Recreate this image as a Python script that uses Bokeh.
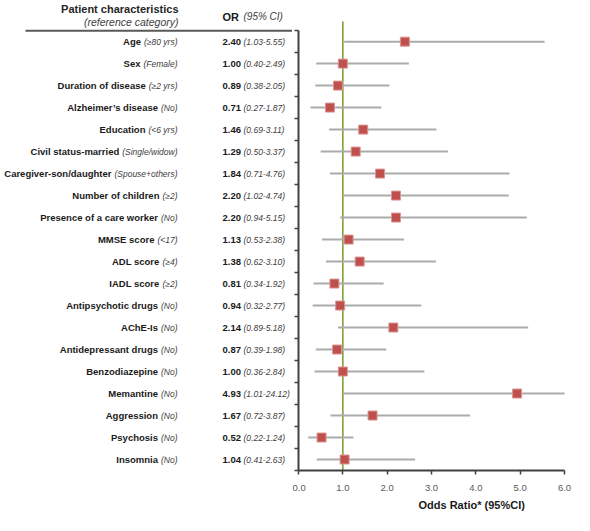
from bokeh.plotting import figure
from bokeh.models import (ColumnDataSource, Range1d, FixedTicker, NumeralTickFormatter, Title)
from bokeh.layouts import row
from bokeh.core.properties import value
from bokeh.embed import file_html
from bokeh.resources import INLINE

# ---------------- data ----------------
characteristics = ["Age", "Sex", "Duration of disease", "Alzheimer\u2019s disease", "Education",
                   "Civil status-married", "Caregiver-son/daughter", "Number of children",
                   "Presence of a care worker", "MMSE score", "ADL score", "IADL score",
                   "Antipsychotic drugs", "AChE-Is", "Antidepressant drugs", "Benzodiazepine",
                   "Memantine", "Aggression", "Psychosis", "Insomnia"]
reference = ["(\u226580 yrs)", "(Female)", "(\u22652 yrs)", "(No)", "(<6 yrs)", "(Single/widow)",
             "(Spouse+others)", "(\u22652)", "(No)", "(<17)", "(\u22654)", "(\u22652)", "(No)", "(No)",
             "(No)", "(No)", "(No)", "(No)", "(No)", "(No)"]
odds_ratio = [2.40, 1.00, 0.89, 0.71, 1.46, 1.29, 1.84, 2.20, 2.20, 1.13,
              1.38, 0.81, 0.94, 2.14, 0.87, 1.00, 4.93, 1.67, 0.52, 1.04]
ci_low = [1.03, 0.40, 0.38, 0.27, 0.69, 0.50, 0.71, 1.02, 0.94, 0.53,
          0.62, 0.34, 0.32, 0.89, 0.39, 0.36, 1.01, 0.72, 0.22, 0.41]
ci_high = [5.55, 2.49, 2.05, 1.87, 3.11, 3.37, 4.76, 4.74, 5.15, 2.38,
           3.10, 1.92, 2.77, 5.18, 1.98, 2.84, 24.12, 3.87, 1.24, 2.63]
x_ticks = [0, 1, 2, 3, 4, 5, 6]
null_value = 1.0

# ---------------- layout helpers ----------------
FONT = "Liberation Sans"
ARIAL = {'(': 333, ')': 333, '\u2265': 549, ' ': 278, 'y': 500, 'r': 333, 's': 500, 'F': 611,
         'e': 556, 'm': 833, 'a': 556, 'l': 222, 'N': 722, 'o': 556, '<': 584, 'S': 667,
         'i': 222, 'n': 556, 'g': 556, '/': 278, 'w': 722, 'd': 556, 'p': 556, 'u': 556,
         '+': 584, 't': 278, 'h': 556}


def text_width(s, size):
    return sum(ARIAL.get(c, 556) for c in s) / 1000.0 * size


n = len(characteristics)
ypos = [n - 0.5 - i for i in range(n)]
ITALIC_SIZE = 8.5
BOLD_SIZE = 9.5
REF_RIGHT = 177
OR_X = 222
CI_X = 243
name_right = [REF_RIGHT - text_width(r, ITALIC_SIZE) - 3 for r in reference]

src = ColumnDataSource(dict(
    y=ypos, name=characteristics, ref=reference,
    name_x=name_right, ref_x=[REF_RIGHT] * n,
    or_txt=["%.2f" % v for v in odds_ratio],
    ci_txt=["(%.2f-%.2f)" % (a, b) for a, b in zip(ci_low, ci_high)],
    or_x=[OR_X] * n, ci_x=[CI_X] * n,
    orv=odds_ratio, lo=ci_low, hi=ci_high,
))

H = 515
BOTTOM = 45
TOP_EXTRA = 1.37
yr = Range1d(0, n + TOP_EXTRA)

# ---------------- left table ----------------
LW = 292
t = figure(width=LW, height=H, x_range=Range1d(0, LW), y_range=yr,
           output_backend="svg", toolbar_location=None,
           x_axis_location=None, y_axis_location=None,
           min_border_left=0, min_border_right=0, min_border_top=0, min_border_bottom=BOTTOM)
t.grid.visible = False
t.outline_line_color = None

t.text(x="name_x", y="y", text="name", source=src, text_font=value(FONT),
       text_font_style="bold", text_font_size="%.1fpx" % BOLD_SIZE, text_align="right",
       text_baseline="middle", text_color="#1a1a1a")
t.text(x="ref_x", y="y", text="ref", source=src, text_font=value(FONT),
       text_font_style="italic", text_font_size="%.1fpx" % ITALIC_SIZE, text_align="right",
       text_baseline="middle", text_color="#404040")
t.text(x="or_x", y="y", text="or_txt", source=src, text_font=value(FONT),
       text_font_style="bold", text_font_size="%.1fpx" % BOLD_SIZE, text_align="left",
       text_baseline="middle", text_color="#1a1a1a")
t.text(x="ci_x", y="y", text="ci_txt", source=src, text_font=value(FONT),
       text_font_style="italic", text_font_size="%.1fpx" % ITALIC_SIZE, text_align="left",
       text_baseline="middle", text_color="#404040")

# headers
t.text(x=[178], y=[n + 0.97], text=["Patient characteristics"], text_font=value(FONT),
       text_font_style="bold", text_font_size="11px", text_align="right",
       text_baseline="middle", text_color="#262626")
t.text(x=[178], y=[n + 0.4], text=["(reference category)"], text_font=value(FONT),
       text_font_style="italic", text_font_size="10.5px", text_align="right",
       text_baseline="middle", text_color="#404040")
t.text(x=[OR_X], y=[n + 0.62], text=["OR"], text_font=value(FONT),
       text_font_style="bold", text_font_size="11px", text_align="left",
       text_baseline="middle", text_color="#1a1a1a")
t.text(x=[CI_X], y=[n + 0.62], text=["(95% CI)"], text_font=value(FONT),
       text_font_style="italic", text_font_size="10px", text_align="left",
       text_baseline="middle", text_color="#404040")
t.segment(x0=[25], x1=[LW], y0=[n], y1=[n], line_color="#595959", line_width=2)

# ---------------- right forest plot ----------------
RW = 574 - LW
p = figure(width=RW, height=H, x_range=Range1d(0, 6), y_range=yr,
           output_backend="svg", toolbar_location=None,
           min_border_left=6, min_border_right=10, min_border_top=0, min_border_bottom=BOTTOM)
p.grid.visible = False
p.outline_line_color = None

p.segment(x0=[null_value], x1=[null_value], y0=[0], y1=[n + 0.42],
          line_color="#7F9F3A", line_width=1.6)
p.segment(x0="lo", x1="hi", y0="y", y1="y", source=src, line_color="#ABABAB", line_width=2)
p.scatter(x="orv", y="y", source=src, marker="square", size=9,
          fill_color="#C0504D", line_color="#D99694", line_width=1)

p.yaxis.ticker = FixedTicker(ticks=list(range(n + 1)))
p.yaxis.bounds = (0, n)
p.yaxis.major_label_overrides = {i: "" for i in range(n + 1)}
p.yaxis.major_label_standoff = 0
p.yaxis.major_tick_out = 4
p.yaxis.major_tick_in = 0
p.yaxis.minor_tick_line_color = None
p.yaxis.axis_line_width = 2
p.yaxis.axis_line_color = "#404040"
p.yaxis.major_tick_line_color = "#404040"
p.yaxis.major_tick_line_width = 1.5

p.xaxis.ticker = FixedTicker(ticks=x_ticks)
p.xaxis.formatter = NumeralTickFormatter(format="0.0")
p.xaxis.major_label_text_font = FONT
p.xaxis.major_label_text_font_size = "9.5px"
p.xaxis.major_label_text_color = "#595959"
p.xaxis.major_label_standoff = 10
p.xaxis.major_tick_out = 4
p.xaxis.major_tick_in = 0
p.xaxis.minor_tick_line_color = None
p.xaxis.axis_line_width = 2
p.xaxis.axis_line_color = "#404040"
p.xaxis.major_tick_line_color = "#404040"
p.xaxis.major_tick_line_width = 1.5

p.add_layout(Title(text="Odds Ratio* (95%CI)", align="left", offset=120, standoff=6,
                   text_font=FONT, text_font_style="bold", text_font_size="11px",
                   text_color="#1a1a1a"), "below")

layout = row(t, p)
open("out.html", "w").write(file_html(layout, INLINE))
